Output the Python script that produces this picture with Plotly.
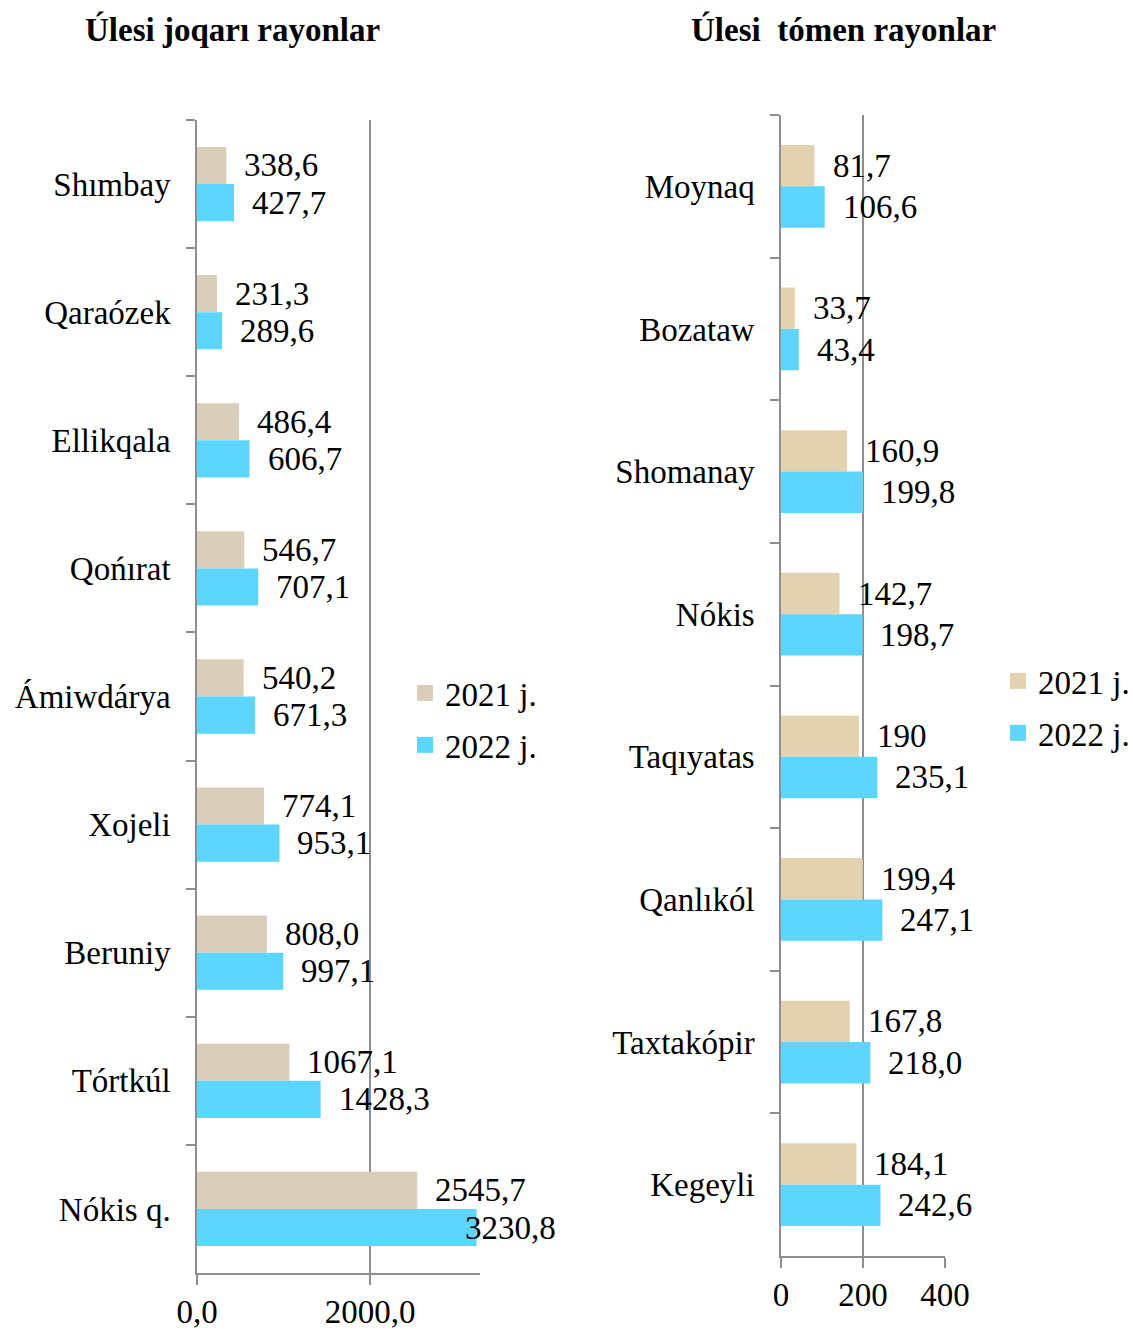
import plotly.graph_objects as go

# ---------------- data ----------------
left_categories = ["Shımbay", "Qaraózek", "Ellikqala", "Qońırat", "Ámiwdárya",
                   "Xojeli", "Beruniy", "Tórtkúl", "Nókis q."]
left_2021 = [338.6, 231.3, 486.4, 546.7, 540.2, 774.1, 808.0, 1067.1, 2545.7]
left_2022 = [427.7, 289.6, 606.7, 707.1, 671.3, 953.1, 997.1, 1428.3, 3230.8]
left_labels_2021 = ["338,6", "231,3", "486,4", "546,7", "540,2", "774,1", "808,0", "1067,1", "2545,7"]
left_labels_2022 = ["427,7", "289,6", "606,7", "707,1", "671,3", "953,1", "997,1", "1428,3", "3230,8"]
left_tickvals = [0, 2000]
left_ticktext = ["0,0", "2000,0"]

right_categories = ["Moynaq", "Bozataw", "Shomanay", "Nókis", "Taqıyatas",
                    "Qanlıkól", "Taxtakópir", "Kegeyli"]
right_2021 = [81.7, 33.7, 160.9, 142.7, 190, 199.4, 167.8, 184.1]
right_2022 = [106.6, 43.4, 199.8, 198.7, 235.1, 247.1, 218.0, 242.6]
right_labels_2021 = ["81,7", "33,7", "160,9", "142,7", "190", "199,4", "167,8", "184,1"]
right_labels_2022 = ["106,6", "43,4", "199,8", "198,7", "235,1", "247,1", "218,0", "242,6"]
right_tickvals = [0, 200, 400]
right_ticktext = ["0", "200", "400"]

series_names = ["2021 j.", "2022 j."]
titles = ["Úlesi joqarı rayonlar", "Úlesi\u00a0 tómen rayonlar"]

# ---------------- style ----------------
W, H = 1133, 1330
FONT = "Liberation Serif"
FS = 33
C21_L = "#D9CEBA"
C21_R = "#E3D2B0"
C22 = "#5DD5FF"
AX = "#8E8E8E"
BARGAP = 0.42

LX = [197 / W, 480 / W]
LY = [1 - 1273 / H, 1 - 120 / H]
RX = [781 / W, 945 / W]
RY = [1 - 1256 / H, 1 - 115 / H]
LRANGE = [0, 3270]
RRANGE = [0, 400]

fig = go.Figure()

fig.add_trace(go.Bar(y=left_categories, x=left_2021, orientation="h", name=series_names[0],
                     marker=dict(color=C21_L, line=dict(width=0)), xaxis="x", yaxis="y",
                     showlegend=False))
fig.add_trace(go.Bar(y=left_categories, x=left_2022, orientation="h", name=series_names[1],
                     marker=dict(color=C22, line=dict(width=0)), xaxis="x", yaxis="y",
                     showlegend=False))
fig.add_trace(go.Bar(y=right_categories, x=right_2021, orientation="h", name=series_names[0],
                     marker=dict(color=C21_R, line=dict(width=0)), xaxis="x2", yaxis="y2",
                     showlegend=False))
fig.add_trace(go.Bar(y=right_categories, x=right_2022, orientation="h", name=series_names[1],
                     marker=dict(color=C22, line=dict(width=0)), xaxis="x2", yaxis="y2",
                     showlegend=False))

# legend entries (square swatches)
for lg, colors, xa, ya in (("legend", [C21_L, C22], "x", "y"), ("legend2", [C21_R, C22], "x2", "y2")):
    for i, (nm, col) in enumerate(zip(series_names, colors)):
        fig.add_trace(go.Scatter(x=[None], y=[None], mode="markers", name=nm,
                                 marker=dict(symbol="square", size=18, color=col),
                                 xaxis=xa, yaxis=ya, legend=lg, legendgroup=lg + str(i),
                                 showlegend=True, hoverinfo="skip"))

annotations = []


def add_labels(cats, v21, v22, l21, l22, xref, yref, ydom, rng):
    cat_px = (ydom[1] - ydom[0]) * H / len(cats)
    half = cat_px * (1 - BARGAP) / 4
    for c, a, b, ta, tb in zip(cats, v21, v22, l21, l22):
        for val, txt, ys in ((a, ta, half), (b, tb, -half)):
            xs = 16 if val < 0.95 * rng[1] else -14
            annotations.append(dict(x=val, y=c, xref=xref, yref=yref, text=txt,
                                    showarrow=False, xanchor="left", yanchor="middle",
                                    xshift=xs, yshift=ys,
                                    font=dict(family=FONT, size=FS, color="black")))


add_labels(left_categories, left_2021, left_2022, left_labels_2021, left_labels_2022,
           "x", "y", LY, LRANGE)
add_labels(right_categories, right_2021, right_2022, right_labels_2021, right_labels_2022,
           "x2", "y2", RY, RRANGE)

annotations.append(dict(x=232 / W, y=1 - 30 / H, xref="paper", yref="paper", text="<b>" + titles[0] + "</b>",
                        showarrow=False, xanchor="center", yanchor="middle",
                        font=dict(family=FONT, size=FS, color="black")))
annotations.append(dict(x=843 / W, y=1 - 30 / H, xref="paper", yref="paper", text="<b>" + titles[1] + "</b>",
                        showarrow=False, xanchor="center", yanchor="middle",
                        font=dict(family=FONT, size=FS, color="black")))

xcommon = dict(showline=True, linecolor=AX, linewidth=1.5, showgrid=True, gridcolor=AX,
               gridwidth=1.5, zeroline=False, ticks="outside", ticklen=10, tickcolor=AX,
               tickwidth=1.5, ticklabelstandoff=-1, tickfont=dict(family=FONT, size=FS, color="black"),
               fixedrange=True)
ycommon = dict(type="category", autorange="reversed", showline=True, linecolor=AX, linewidth=1.5,
               showgrid=False, zeroline=False, ticks="outside", ticklen=9, tickcolor=AX,
               tickwidth=1.5, tickson="boundaries", ticklabelstandoff=18,
               tickfont=dict(family=FONT, size=FS, color="black"), fixedrange=True)

legend_common = dict(font=dict(family=FONT, size=FS, color="black"), bgcolor="rgba(0,0,0,0)",
                     xanchor="left", yanchor="top", itemclick=False, itemdoubleclick=False,
                     traceorder="grouped", tracegroupgap=6, itemsizing="trace")

fig.update_layout(
    width=W, height=H,
    margin=dict(l=0, r=0, t=0, b=0, autoexpand=False),
    paper_bgcolor="white", plot_bgcolor="white",
    barmode="group", bargap=BARGAP, bargroupgap=0,
    font=dict(family=FONT, size=FS, color="black"),
    xaxis=dict(domain=LX, range=LRANGE, anchor="y", tickvals=left_tickvals, ticktext=left_ticktext, **xcommon),
    yaxis=dict(domain=LY, anchor="x", **ycommon),
    xaxis2=dict(domain=RX, range=RRANGE, anchor="y2", tickvals=right_tickvals, ticktext=right_ticktext, **xcommon),
    yaxis2=dict(domain=RY, anchor="x2", **ycommon),
    legend=dict(x=405 / W, y=1 - 665 / H, **legend_common),
    legend2=dict(x=998 / W, y=1 - 653 / H, **legend_common),
    annotations=annotations,
    showlegend=True,
)

fig.write_html("out.html", config={"displayModeBar": False},
               post_script="document.body.style.margin='0';document.body.style.overflow='hidden';")
